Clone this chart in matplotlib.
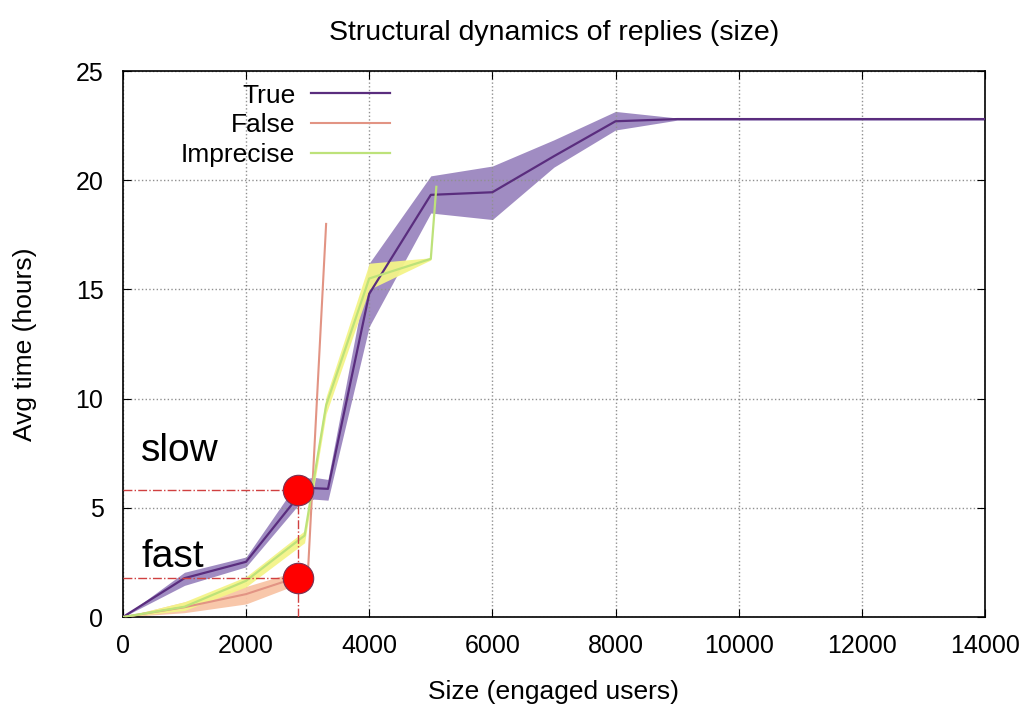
import numpy as np
import matplotlib.pyplot as plt

plt.rcParams['font.family'] = ['Liberation Sans', 'DejaVu Sans']

# data
true_x = [0, 1000, 2000, 2870, 3100, 3330, 4000, 5000, 6000, 7000, 8000, 9000, 14000]
true_y = [0, 1.78, 2.53, 5.6, 5.9, 5.87, 14.8, 19.33, 19.45, 21.1, 22.7, 22.8, 22.8]
true_lo = [0, 1.45, 2.3, 5.2, 5.4, 5.35, 13.3, 18.5, 18.2, 20.6, 22.3, 22.75, 22.75]
true_hi = [0, 2.05, 2.75, 6.3, 6.4, 6.3, 16.2, 20.2, 20.65, 21.85, 23.15, 22.85, 22.85]

false_x = [0, 1000, 2000, 2650, 2870, 3000, 3300]
false_y = [0, 0.45, 1.05, 1.65, 1.8, 1.8, 18.0]
false_band_x = [0, 1000, 2000, 2650, 2870]
false_lo = [0, 0.2, 0.6, 1.3, 1.5]
false_hi = [0, 0.7, 1.4, 1.95, 2.1]

imp_x = [0, 1000, 2000, 2950, 3300, 4000, 5000, 5090]
imp_y = [0, 0.47, 1.66, 3.73, 9.7, 15.5, 16.4, 19.7]
imp_band_x = [0, 1000, 2000, 2950, 3300, 4000, 5000]
imp_lo = [0, 0.3, 1.38, 3.4, 9.3, 15.0, 16.35]
imp_hi = [0, 0.7, 1.85, 3.95, 10.1, 16.2, 16.45]

slow_pt = (2850, 5.8)
fast_pt = (2850, 1.8)

c_true, c_true_band = '#5a2d7e', '#a08cc2'
c_false, c_false_band = '#e29484', '#f8c4a6'
c_imp, c_imp_band = '#bde27a', '#f4f488'

fig = plt.figure(figsize=(10.33, 7.06), dpi=100)
ax = fig.add_axes([0.119, 0.126, 0.8345, 0.7734])

ax.fill_between(true_x, true_lo, true_hi, color=c_true_band, lw=0, zorder=1)
ax.fill_between(false_band_x, false_lo, false_hi, color=c_false_band, lw=0, alpha=0.95, zorder=2)
ax.fill_between(imp_band_x, imp_lo, imp_hi, color=c_imp_band, lw=0, alpha=0.95, zorder=3)
ax.plot(true_x, true_y, color=c_true, lw=1.6, label='True', zorder=4)
ax.plot(false_x, false_y, color=c_false, lw=1.5, label='False', zorder=4)
ax.plot(imp_x, imp_y, color=c_imp, lw=1.6, label='Imprecise', zorder=4)

# slow / fast markers
for px, py in [slow_pt, fast_pt]:
    ax.plot([0, px], [py, py], color='#d04040', lw=1, ls='-.', zorder=5)
ax.plot([slow_pt[0], slow_pt[0]], [0, slow_pt[1]], color='#d04040', lw=1, ls='-.', zorder=5)
ax.scatter([slow_pt[0], fast_pt[0]], [slow_pt[1], fast_pt[1]], s=480, color='#ff0000',
           edgecolor='#7a3050', linewidth=0.8, zorder=6)
ax.text(300, 7.6, 'slow', fontsize=28, ha='left', va='center', zorder=7)
ax.text(300, 2.75, 'fast', fontsize=28, ha='left', va='center', zorder=7)

ax.set_xlim(0, 14000)
ax.set_ylim(0, 25)
ax.set_xticks(np.arange(0, 14001, 2000))
ax.set_yticks(np.arange(0, 26, 5))
ax.tick_params(direction='in', top=True, right=True, labelsize=18, length=6)
ax.tick_params(axis='x', pad=12)
ax.tick_params(axis='y', pad=14)
ax.grid(True, ls=':', color='#909090', lw=1)
for s in ax.spines.values():
    s.set_linewidth(1.2)

ax.set_title('Structural dynamics of replies (size)', fontsize=20.5, pad=22)
ax.set_xlabel('Size (engaged users)', fontsize=19, labelpad=16)
ax.set_ylabel('Avg time (hours)', fontsize=19, labelpad=28)

leg = ax.legend(loc='upper right', bbox_to_anchor=(0.31, 0.977), frameon=False, markerfirst=False,
                fontsize=19, handlelength=3.0, labelspacing=0.22, handletextpad=0.6,
                borderaxespad=0, borderpad=0)
leg._legend_box.align = 'right'
for t in leg.get_texts():
    t.set_ha('right')

plt.savefig('out.png', dpi=100)
